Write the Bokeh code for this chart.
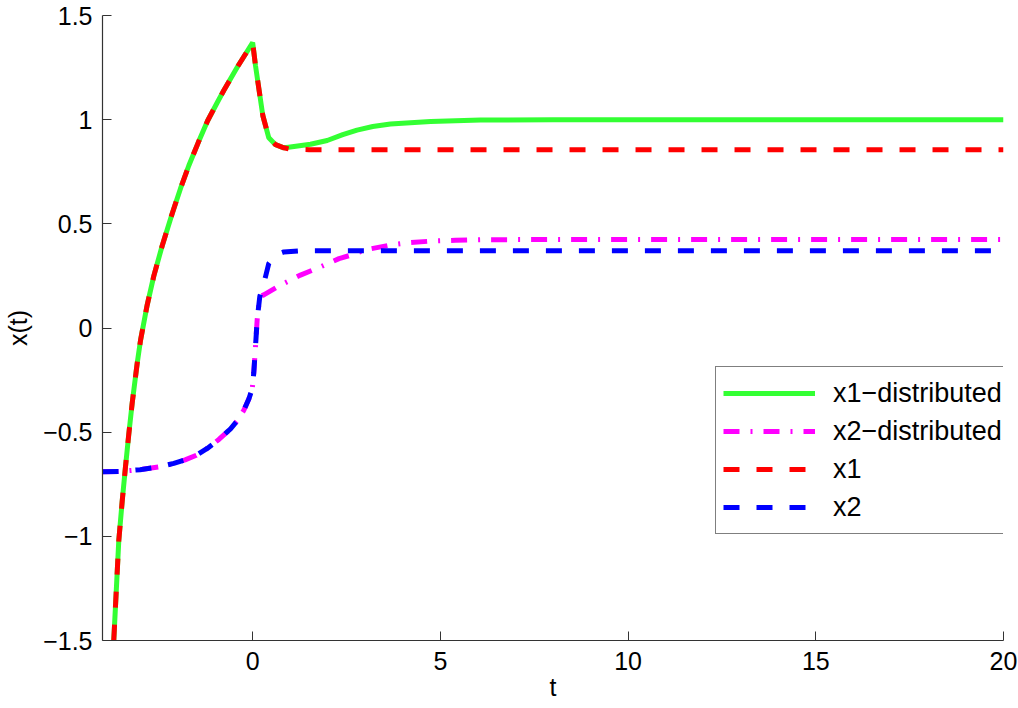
from bokeh.plotting import figure
from bokeh.models import Range1d, FixedTicker, Legend, LegendItem
from bokeh.embed import file_html
from bokeh.resources import INLINE

# ---- data ----
t_rise = [-3.70, -3.566, -3.475, -3.387, -3.30, -3.209, -3.076, -2.988, -2.81, -2.633,
          -2.41, -2.143, -1.922, -1.70, -1.45, -1.20, -0.95, -0.77, -0.40, 0.0,
          0.075, 0.27, 0.43, 0.61, 0.83]
x1_rise = [-1.5, -1.02, -0.83, -0.665, -0.51, -0.36, -0.17, -0.06, 0.11, 0.25,
           0.395, 0.55, 0.67, 0.78, 0.89, 0.995, 1.08, 1.14, 1.255, 1.37,
           1.26, 1.02, 0.913, 0.88, 0.865]

t_x1_tail = [1.0, 1.5, 3.0, 20.0]
x1_tail = [0.858, 0.856, 0.856, 0.856]

t_x1d_tail = [0.955, 1.54, 1.985, 2.4, 2.78, 3.2, 3.67, 4.74, 6.07, 8.0, 20.0]
x1d_tail = [0.868, 0.882, 0.90, 0.928, 0.95, 0.967, 0.979, 0.991, 0.998, 1.0, 1.0]

t_x2_rise = [-4.0, -3.5, -3.0, -2.5, -2.1, -1.8, -1.5, -1.21, -0.9, -0.59, -0.4, -0.236,
             -0.10, -0.01, 0.03, 0.076, 0.12, 0.19]
x2_rise = [-0.69, -0.688, -0.68, -0.667, -0.65, -0.633, -0.611, -0.578, -0.535, -0.484,
           -0.443, -0.395, -0.34, -0.29, -0.214, -0.087, 0.04, 0.151]

t_x2_tail = [0.342, 0.43, 0.6, 0.83, 1.27, 20.0]
x2_tail = [0.246, 0.31, 0.35, 0.365, 0.371, 0.371]

t_x2d_tail = [0.297, 0.742, 1.274, 1.81, 2.3, 2.6, 3.0, 3.67, 4.2, 4.74, 5.4, 6.07, 10.0, 20.0]
x2d_tail = [0.159, 0.206, 0.254, 0.294, 0.333, 0.349, 0.375, 0.398, 0.41, 0.417, 0.421,
            0.424, 0.425, 0.425]

x_ticks = [0, 5, 10, 15, 20]
y_ticks = [-1.5, -1.0, -0.5, 0.0, 0.5, 1.0, 1.5]
y_tick_labels = ["\u22121.5", "\u22121", "\u22120.5", "0", "0.5", "1", "1.5"]

labels = ["x1\u2212distributed", "x2\u2212distributed", "x1", "x2"]

# ---- figure ----
FONT = "Liberation Sans"
p = figure(width=1018, height=708, x_range=Range1d(-4, 20), y_range=Range1d(-1.5, 1.5),
           output_backend="svg", toolbar_location=None,
           min_border_left=102, min_border_right=15, min_border_top=15, min_border_bottom=68)
p.outline_line_color = None
p.grid.visible = False
p.background_fill_color = "white"

r_x1d = p.line(t_rise + t_x1d_tail, x1_rise + x1d_tail, line_color="#33ff33", line_width=5)
r_x2d = p.line(t_x2_rise + t_x2d_tail, x2_rise + x2d_tail, line_color="#ff00ff", line_width=5,
               line_dash="16 11 2 11")
r_x1 = p.line(t_rise + t_x1_tail, x1_rise + x1_tail, line_color="#ff0000", line_width=5,
              line_dash="16 17")
r_x2 = p.line(t_x2_rise + t_x2_tail, x2_rise + x2_tail, line_color="#0000ff", line_width=5,
              line_dash="16 17")

for ax in (p.xaxis[0], p.yaxis[0]):
    ax.axis_line_color = "#333333"
    ax.axis_line_width = 1.2
    ax.major_tick_line_color = "#333333"
    ax.major_tick_in = 9
    ax.major_tick_out = 0
    ax.minor_tick_line_color = None
    ax.major_label_text_font = FONT
    ax.major_label_text_font_size = "25px"
    ax.major_label_text_color = "black"
    ax.axis_label_text_font = FONT
    ax.axis_label_text_font_size = "25px"
    ax.axis_label_text_font_style = "normal"
    ax.axis_label_text_color = "black"

p.xaxis.ticker = FixedTicker(ticks=x_ticks)
p.yaxis.ticker = FixedTicker(ticks=y_ticks)
p.yaxis.major_label_overrides = {v: s for v, s in zip(y_ticks, y_tick_labels)}
p.xaxis.axis_label = "t"
p.yaxis.axis_label = "x(t)"
p.xaxis.major_label_standoff = 11
p.xaxis.axis_label_standoff = 0
p.yaxis.major_label_standoff = 10
p.yaxis.axis_label_standoff = 8

legend = Legend(items=[LegendItem(label=labels[0], renderers=[r_x1d]),
                       LegendItem(label=labels[1], renderers=[r_x2d]),
                       LegendItem(label=labels[2], renderers=[r_x1]),
                       LegendItem(label=labels[3], renderers=[r_x2])],
                location=(613, 106))
legend.border_line_color = "black"
legend.border_line_width = 1
legend.background_fill_color = "white"
legend.background_fill_alpha = 1
legend.padding = 7
legend.spacing = 0
legend.margin = 0
legend.glyph_width = 92
legend.glyph_height = 38
legend.label_height = 38
legend.label_standoff = 18
legend.label_text_font = FONT
legend.label_text_font_size = "27px"
legend.label_text_color = "black"
p.add_layout(legend, "center")

open("out.html", "w").write(file_html(p, INLINE))
